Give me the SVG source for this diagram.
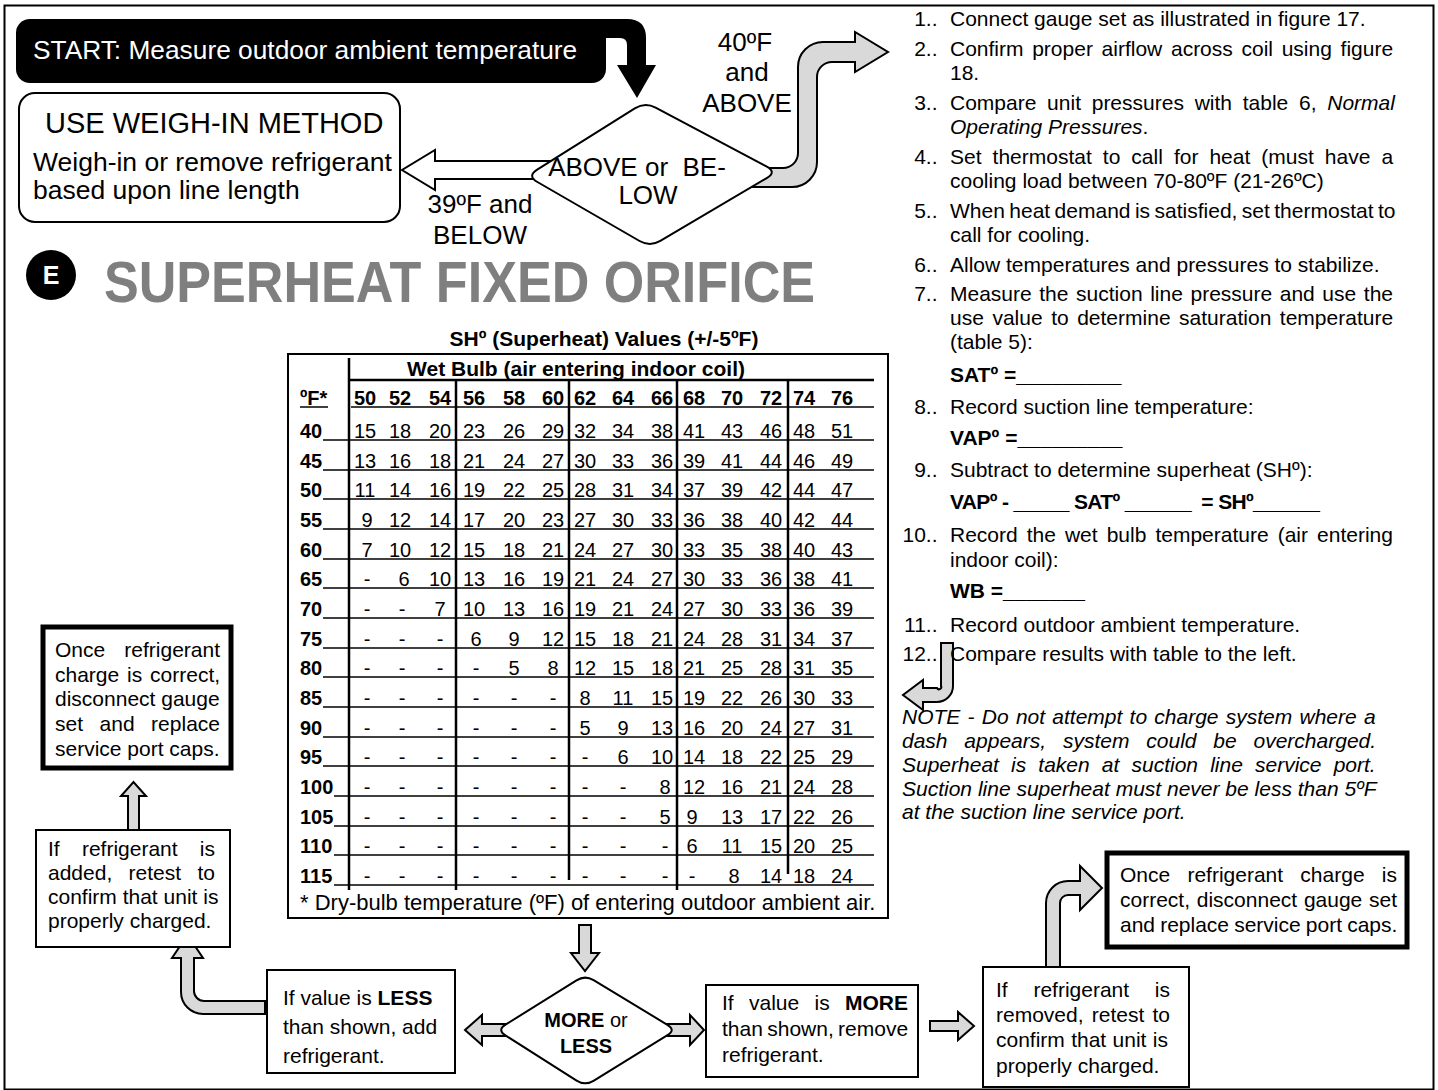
<svg xmlns="http://www.w3.org/2000/svg" width="1438" height="1090" viewBox="0 0 1438 1090">
<style>
text{font-family:"Liberation Sans",Arial,Helvetica,sans-serif;fill:#000}
.f20{font-size:20px}
.f21{font-size:21px}
.f22{font-size:22px}
.f26{font-size:26px}
.b{font-weight:bold}
.i{font-style:italic}
.r{text-anchor:end}
.m{text-anchor:middle}
.box{fill:#fff;stroke:#000;stroke-width:2}
.thick{fill:#fff;stroke:#000;stroke-width:5}
.garrow{fill:#d9d9d9;stroke:#000;stroke-width:2}
.warrow{fill:#fff;stroke:#000;stroke-width:2}
.rl{stroke:#000;stroke-width:1.5;fill:none}
.vl{stroke:#000;stroke-width:2.5;fill:none}
</style>
<rect x="4.5" y="5.5" width="1429" height="1084" fill="#fff" stroke="#000" stroke-width="2"/>

<g id="connectors">
  <path d="M 590 19 H 627 Q 646 19 646 38 V 65 H 656 L 637 98 L 617 65 H 627 V 45 Q 627 38 620 38 H 590 Z" fill="#000"/>
  <path class="warrow" d="M 560 161 H 435 V 150 L 402 170 L 435 190 V 179 H 560 Z"/>
  <path class="garrow" d="M 745 187 H 792 A 25 25 0 0 0 817 162 V 77 A 15 15 0 0 1 832 62 H 855 V 72 L 888 52 L 855 32 V 42 H 823 A 25 25 0 0 0 798 67 V 153 A 15 15 0 0 1 783 168 H 745 Z"/>
  <text class="f26 m" x="745" y="51">40ºF</text>
  <text class="f26 m" x="747" y="81">and</text>
  <text class="f26 m" x="747" y="112">ABOVE</text>
  <text class="f26 m" x="480" y="213">39ºF and</text>
  <text class="f26 m" x="480" y="243.5">BELOW</text>
  <path class="garrow" d="M 941 643 H 953 V 686 A 16 16 0 0 1 937 702 H 923 V 710 L 903 695 L 923 680 V 688 H 937 A 2 2 0 0 0 941 686 Z"/>
  <path class="garrow" d="M 579 925 H 591 V 953 H 599 L 585 971 L 571 953 H 579 Z"/>
  <path class="garrow" d="M 510 1024 H 482 V 1015 L 465 1030 L 482 1045 V 1036 H 510 Z"/>
  <path class="garrow" d="M 662 1024 H 690 V 1015 L 704 1030 L 690 1045 V 1036 H 662 Z"/>
  <path class="garrow" d="M 930 1021 H 958 V 1012 L 974 1026 L 958 1040 V 1031 H 930 Z"/>
  <path class="garrow" d="M 1046 967 V 903 A 22 22 0 0 1 1068 881 H 1080 V 866 L 1102 888 L 1080 910 V 895 H 1068 A 8 8 0 0 0 1060 903 V 967 Z"/>
  <path class="garrow" d="M 265 1001 H 204 A 10 10 0 0 1 194 991 V 958 H 203 L 187.5 935 L 172 958 H 181 V 992 A 22 22 0 0 0 203 1014 H 265 Z"/>
  <path class="garrow" d="M 128 830 V 796 H 121 L 133.5 782 L 146 796 H 139 V 830 Z"/>
</g>

<g id="start">
  <rect x="16" y="19" width="590" height="64" rx="14" fill="#000"/>
  <text x="33" y="59" style="font-size:26.3px;fill:#fff">START: Measure outdoor ambient temperature</text>
</g>

<g id="weigh-in">
  <rect class="box" x="19" y="93" width="381" height="129" rx="16"/>
  <text x="45" y="133" style="font-size:29px">USE WEIGH-IN METHOD</text>
  <text x="33" y="171" style="font-size:26.5px">Weigh-in or remove refrigerant</text>
  <text x="33" y="199" style="font-size:26.5px">based upon line length</text>
</g>

<g id="decision-temp">
  <path class="box" d="M 655.6 107.6 L 766.4 166.4 Q 777 172 766.7 178.1 L 660.3 240.9 Q 650 247 639.6 241 L 537.4 182 Q 527 176 537.2 169.6 L 634.8 108.4 Q 645 102 655.6 107.6 Z"/>
  <text class="f26 m" x="637" y="176" xml:space="preserve">ABOVE or  BE-</text>
  <text class="f26 m" x="648" y="204">LOW</text>
</g>

<g id="heading">
  <circle cx="51" cy="275" r="25" fill="#000"/>
  <text class="b m" x="51" y="284" style="font-size:25px;fill:#fff">E</text>
  <text class="b" x="104" y="302" textLength="711" lengthAdjust="spacingAndGlyphs" style="font-size:58px;fill:#7f7f7f">SUPERHEAT FIXED ORIFICE</text>
</g>

<g id="table">
  <text class="b m" x="604" y="346" style="font-size:21px">SHº (Superheat) Values (+/-5ºF)</text>
  <rect x="288" y="354" width="600" height="564" fill="#fff" stroke="#000" stroke-width="2"/>
  <text class="b m" x="576" y="376" style="font-size:21px">Wet Bulb (air entering indoor coil)</text>
  <line class="vl" x1="349" y1="380" x2="874" y2="380"/>
  <line class="vl" x1="349" y1="358" x2="349" y2="890"/>
  <line class="vl" x1="456" y1="380" x2="456" y2="890"/>
  <line class="vl" x1="569" y1="380" x2="569" y2="880"/>
  <line class="vl" x1="677" y1="380" x2="677" y2="890"/>
  <line class="vl" x1="788" y1="380" x2="788" y2="874"/>
  <g class="rl">
    <line x1="300" y1="407" x2="328" y2="407"/>
    <line x1="351" y1="407" x2="874" y2="407"/>
    <line x1="323" y1="440" x2="874" y2="440"/>
    <line x1="323" y1="470" x2="874" y2="470"/>
    <line x1="323" y1="499" x2="874" y2="499"/>
    <line x1="323" y1="529" x2="874" y2="529"/>
    <line x1="323" y1="559" x2="874" y2="559"/>
    <line x1="323" y1="588" x2="874" y2="588"/>
    <line x1="323" y1="618" x2="874" y2="618"/>
    <line x1="323" y1="648" x2="874" y2="648"/>
    <line x1="323" y1="677" x2="874" y2="677"/>
    <line x1="323" y1="707" x2="874" y2="707"/>
    <line x1="323" y1="737" x2="874" y2="737"/>
    <line x1="323" y1="766" x2="874" y2="766"/>
    <line x1="334" y1="796" x2="874" y2="796"/>
    <line x1="334" y1="826" x2="874" y2="826"/>
    <line x1="334" y1="855" x2="874" y2="855"/>
    <line x1="334" y1="885" x2="874" y2="885"/>
  </g>
  <g class="f20 b">
    <text x="300" y="405">ºF*</text>
    <text x="300" y="438">40</text>
    <text x="300" y="468">45</text>
    <text x="300" y="497">50</text>
    <text x="300" y="527">55</text>
    <text x="300" y="557">60</text>
    <text x="300" y="586">65</text>
    <text x="300" y="616">70</text>
    <text x="300" y="646">75</text>
    <text x="300" y="675">80</text>
    <text x="300" y="705">85</text>
    <text x="300" y="735">90</text>
    <text x="300" y="764">95</text>
    <text x="300" y="794">100</text>
    <text x="300" y="824">105</text>
    <text x="300" y="853">110</text>
    <text x="300" y="883">115</text>
  </g>
  <text class="f20 b m" y="405"><tspan x="365">50</tspan><tspan x="400">52</tspan><tspan x="440">54</tspan><tspan x="474">56</tspan><tspan x="514">58</tspan><tspan x="553">60</tspan><tspan x="585">62</tspan><tspan x="623">64</tspan><tspan x="662">66</tspan><tspan x="694">68</tspan><tspan x="732">70</tspan><tspan x="771">72</tspan><tspan x="804">74</tspan><tspan x="842">76</tspan></text>
  <text class="f20 m" y="438"><tspan x="365">15</tspan><tspan x="400">18</tspan><tspan x="440">20</tspan><tspan x="474">23</tspan><tspan x="514">26</tspan><tspan x="553">29</tspan><tspan x="585">32</tspan><tspan x="623">34</tspan><tspan x="662">38</tspan><tspan x="694">41</tspan><tspan x="732">43</tspan><tspan x="771">46</tspan><tspan x="804">48</tspan><tspan x="842">51</tspan></text>
  <text class="f20 m" y="468"><tspan x="365">13</tspan><tspan x="400">16</tspan><tspan x="440">18</tspan><tspan x="474">21</tspan><tspan x="514">24</tspan><tspan x="553">27</tspan><tspan x="585">30</tspan><tspan x="623">33</tspan><tspan x="662">36</tspan><tspan x="694">39</tspan><tspan x="732">41</tspan><tspan x="771">44</tspan><tspan x="804">46</tspan><tspan x="842">49</tspan></text>
  <text class="f20 m" y="497"><tspan x="365">11</tspan><tspan x="400">14</tspan><tspan x="440">16</tspan><tspan x="474">19</tspan><tspan x="514">22</tspan><tspan x="553">25</tspan><tspan x="585">28</tspan><tspan x="623">31</tspan><tspan x="662">34</tspan><tspan x="694">37</tspan><tspan x="732">39</tspan><tspan x="771">42</tspan><tspan x="804">44</tspan><tspan x="842">47</tspan></text>
  <text class="f20 m" y="527"><tspan x="367">9</tspan><tspan x="400">12</tspan><tspan x="440">14</tspan><tspan x="474">17</tspan><tspan x="514">20</tspan><tspan x="553">23</tspan><tspan x="585">27</tspan><tspan x="623">30</tspan><tspan x="662">33</tspan><tspan x="694">36</tspan><tspan x="732">38</tspan><tspan x="771">40</tspan><tspan x="804">42</tspan><tspan x="842">44</tspan></text>
  <text class="f20 m" y="557"><tspan x="367">7</tspan><tspan x="400">10</tspan><tspan x="440">12</tspan><tspan x="474">15</tspan><tspan x="514">18</tspan><tspan x="553">21</tspan><tspan x="585">24</tspan><tspan x="623">27</tspan><tspan x="662">30</tspan><tspan x="694">33</tspan><tspan x="732">35</tspan><tspan x="771">38</tspan><tspan x="804">40</tspan><tspan x="842">43</tspan></text>
  <text class="f20 m" y="586"><tspan x="367">-</tspan><tspan x="404">6</tspan><tspan x="440">10</tspan><tspan x="474">13</tspan><tspan x="514">16</tspan><tspan x="553">19</tspan><tspan x="585">21</tspan><tspan x="623">24</tspan><tspan x="662">27</tspan><tspan x="694">30</tspan><tspan x="732">33</tspan><tspan x="771">36</tspan><tspan x="804">38</tspan><tspan x="842">41</tspan></text>
  <text class="f20 m" y="616"><tspan x="367">-</tspan><tspan x="402">-</tspan><tspan x="440">7</tspan><tspan x="474">10</tspan><tspan x="514">13</tspan><tspan x="553">16</tspan><tspan x="585">19</tspan><tspan x="623">21</tspan><tspan x="662">24</tspan><tspan x="694">27</tspan><tspan x="732">30</tspan><tspan x="771">33</tspan><tspan x="804">36</tspan><tspan x="842">39</tspan></text>
  <text class="f20 m" y="646"><tspan x="367">-</tspan><tspan x="402">-</tspan><tspan x="440">-</tspan><tspan x="476">6</tspan><tspan x="514">9</tspan><tspan x="553">12</tspan><tspan x="585">15</tspan><tspan x="623">18</tspan><tspan x="662">21</tspan><tspan x="694">24</tspan><tspan x="732">28</tspan><tspan x="771">31</tspan><tspan x="804">34</tspan><tspan x="842">37</tspan></text>
  <text class="f20 m" y="675"><tspan x="367">-</tspan><tspan x="402">-</tspan><tspan x="440">-</tspan><tspan x="476">-</tspan><tspan x="514">5</tspan><tspan x="553">8</tspan><tspan x="585">12</tspan><tspan x="623">15</tspan><tspan x="662">18</tspan><tspan x="694">21</tspan><tspan x="732">25</tspan><tspan x="771">28</tspan><tspan x="804">31</tspan><tspan x="842">35</tspan></text>
  <text class="f20 m" y="705"><tspan x="367">-</tspan><tspan x="402">-</tspan><tspan x="440">-</tspan><tspan x="476">-</tspan><tspan x="514">-</tspan><tspan x="553">-</tspan><tspan x="585">8</tspan><tspan x="623">11</tspan><tspan x="662">15</tspan><tspan x="694">19</tspan><tspan x="732">22</tspan><tspan x="771">26</tspan><tspan x="804">30</tspan><tspan x="842">33</tspan></text>
  <text class="f20 m" y="735"><tspan x="367">-</tspan><tspan x="402">-</tspan><tspan x="440">-</tspan><tspan x="476">-</tspan><tspan x="514">-</tspan><tspan x="553">-</tspan><tspan x="585">5</tspan><tspan x="623">9</tspan><tspan x="662">13</tspan><tspan x="694">16</tspan><tspan x="732">20</tspan><tspan x="771">24</tspan><tspan x="804">27</tspan><tspan x="842">31</tspan></text>
  <text class="f20 m" y="764"><tspan x="367">-</tspan><tspan x="402">-</tspan><tspan x="440">-</tspan><tspan x="476">-</tspan><tspan x="514">-</tspan><tspan x="553">-</tspan><tspan x="585">-</tspan><tspan x="623">6</tspan><tspan x="662">10</tspan><tspan x="694">14</tspan><tspan x="732">18</tspan><tspan x="771">22</tspan><tspan x="804">25</tspan><tspan x="842">29</tspan></text>
  <text class="f20 m" y="794"><tspan x="367">-</tspan><tspan x="402">-</tspan><tspan x="440">-</tspan><tspan x="476">-</tspan><tspan x="514">-</tspan><tspan x="553">-</tspan><tspan x="585">-</tspan><tspan x="623">-</tspan><tspan x="665">8</tspan><tspan x="694">12</tspan><tspan x="732">16</tspan><tspan x="771">21</tspan><tspan x="804">24</tspan><tspan x="842">28</tspan></text>
  <text class="f20 m" y="824"><tspan x="367">-</tspan><tspan x="402">-</tspan><tspan x="440">-</tspan><tspan x="476">-</tspan><tspan x="514">-</tspan><tspan x="553">-</tspan><tspan x="585">-</tspan><tspan x="623">-</tspan><tspan x="665">5</tspan><tspan x="692">9</tspan><tspan x="732">13</tspan><tspan x="771">17</tspan><tspan x="804">22</tspan><tspan x="842">26</tspan></text>
  <text class="f20 m" y="853"><tspan x="367">-</tspan><tspan x="402">-</tspan><tspan x="440">-</tspan><tspan x="476">-</tspan><tspan x="514">-</tspan><tspan x="553">-</tspan><tspan x="585">-</tspan><tspan x="623">-</tspan><tspan x="665">-</tspan><tspan x="692">6</tspan><tspan x="732">11</tspan><tspan x="771">15</tspan><tspan x="804">20</tspan><tspan x="842">25</tspan></text>
  <text class="f20 m" y="883"><tspan x="367">-</tspan><tspan x="402">-</tspan><tspan x="440">-</tspan><tspan x="476">-</tspan><tspan x="514">-</tspan><tspan x="553">-</tspan><tspan x="585">-</tspan><tspan x="623">-</tspan><tspan x="665">-</tspan><tspan x="692">-</tspan><tspan x="734">8</tspan><tspan x="771">14</tspan><tspan x="804">18</tspan><tspan x="842">24</tspan></text>
  <text class="f22" x="300" y="910">* Dry-bulb temperature (ºF) of entering outdoor ambient air.</text>
</g>

<g id="steps">
  <g class="f21 r">
    <text x="937.5" y="26">1..</text>
    <text x="937.5" y="56">2..</text>
    <text x="937.5" y="110">3..</text>
    <text x="937.5" y="164">4..</text>
    <text x="937.5" y="218">5..</text>
    <text x="937.5" y="272">6..</text>
    <text x="937.5" y="301">7..</text>
    <text x="937.5" y="414">8..</text>
    <text x="937.5" y="477">9..</text>
    <text x="937.5" y="542">10..</text>
    <text x="937.5" y="632">11..</text>
    <text x="937.5" y="661">12..</text>
  </g>
  <g class="f21">
    <text x="950" y="26">Connect gauge set as illustrated in figure 17.</text>
    <text x="950" y="56" style="word-spacing:2.85px">Confirm proper airflow across coil using figure</text>
    <text x="950" y="80">18.</text>
    <text x="950" y="110" style="word-spacing:4.9px">Compare unit pressures with table 6, <tspan class="i">Normal</tspan></text>
    <text x="950" y="134"><tspan class="i">Operating Pressures</tspan>.</text>
    <text x="950" y="164" style="word-spacing:5.2px">Set thermostat to call for heat (must have a</text>
    <text x="950" y="188">cooling load between 70-80ºF (21-26ºC)</text>
    <text x="950" y="218" style="word-spacing:-1.4px">When heat demand is satisfied, set thermostat to</text>
    <text x="950" y="242">call for cooling.</text>
    <text x="950" y="272">Allow temperatures and pressures to stabilize.</text>
    <text x="950" y="301" style="word-spacing:1.75px">Measure the suction line pressure and use the</text>
    <text x="950" y="325" style="word-spacing:2.7px">use value to determine saturation temperature</text>
    <text x="950" y="349">(table 5):</text>
    <text class="b" x="950" y="382">SATº =_________</text>
    <text x="950" y="414">Record suction line temperature:</text>
    <text class="b" x="950" y="445">VAPº =_________</text>
    <text x="950" y="477">Subtract to determine superheat (SHº):</text>
    <text class="b" x="950" y="509" textLength="370" lengthAdjust="spacing" xml:space="preserve">VAPº - _____ SATº ______  = SHº______</text>
    <text x="950" y="542" style="word-spacing:3.2px">Record the wet bulb temperature (air entering</text>
    <text x="950" y="567">indoor coil):</text>
    <text class="b" x="950" y="598">WB =_______</text>
    <text x="950" y="632">Record outdoor ambient temperature.</text>
    <text x="950" y="661">Compare results with table to the left.</text>
  </g>
</g>

<g id="note" class="f21 i">
  <text x="902" y="724" style="word-spacing:1.4px">NOTE - Do not attempt to charge system where a</text>
  <text x="902" y="748" style="word-spacing:11px">dash appears, system could be overcharged.</text>
  <text x="902" y="772" style="word-spacing:6.3px">Superheat is taken at suction line service port.</text>
  <text x="902" y="796">Suction line superheat must never be less than 5ºF</text>
  <text x="902" y="819">at the suction line service port.</text>
</g>

<g id="final-left">
  <rect class="thick" x="43" y="627" width="188" height="141"/>
  <g class="f21">
    <text x="55" y="657" style="word-spacing:13.3px">Once refrigerant</text>
    <text x="55" y="682" style="word-spacing:2px">charge is correct,</text>
    <text x="55" y="706">disconnect gauge</text>
    <text x="55" y="731" style="word-spacing:10.7px">set and replace</text>
    <text x="55" y="756">service port caps.</text>
  </g>
</g>

<g id="retest-added">
  <rect class="box" x="36" y="830" width="194" height="117"/>
  <g class="f21">
    <text x="48" y="856" style="word-spacing:16.4px">If refrigerant is</text>
    <text x="48" y="880" style="word-spacing:10.5px">added, retest to</text>
    <text x="48" y="904">confirm that unit is</text>
    <text x="48" y="928">properly charged.</text>
  </g>
</g>

<g id="less">
  <rect class="box" x="267" y="970" width="188" height="103"/>
  <g class="f21">
    <text x="283" y="1005">If value is <tspan class="b">LESS</tspan></text>
    <text x="283" y="1034">than shown, add</text>
    <text x="283" y="1063">refrigerant.</text>
  </g>
</g>

<g id="decision-more-less">
  <path class="box" d="M 593.6 980.2 L 667.4 1024.8 Q 676 1030 667.5 1035.2 L 593.5 1080.8 Q 585 1086 576.6 1080.6 L 505.4 1035.4 Q 497 1030 505.5 1024.7 L 576.5 980.3 Q 585 975 593.6 980.2 Z"/>
  <text class="f20 m" x="586" y="1027"><tspan class="b">MORE</tspan> or</text>
  <text class="f20 b m" x="586" y="1053">LESS</text>
</g>

<g id="more">
  <rect class="box" x="706" y="985" width="212" height="92"/>
  <g class="f21">
    <text x="722" y="1010" style="word-spacing:9.5px">If value is <tspan class="b">MORE</tspan></text>
    <text x="722" y="1036" style="word-spacing:-1.5px">than shown, remove</text>
    <text x="722" y="1062">refrigerant.</text>
  </g>
</g>

<g id="retest-removed">
  <rect class="box" x="983" y="967" width="206" height="120"/>
  <g class="f21">
    <text x="996" y="997" style="word-spacing:19.9px">If refrigerant is</text>
    <text x="996" y="1022" style="word-spacing:2.4px">removed, retest to</text>
    <text x="996" y="1047" style="word-spacing:0.5px">confirm that unit is</text>
    <text x="996" y="1073">properly charged.</text>
  </g>
</g>

<g id="final-right">
  <rect class="thick" x="1107" y="853" width="300" height="94"/>
  <g class="f21">
    <text x="1120" y="882" style="word-spacing:11.4px">Once refrigerant charge is</text>
    <text x="1120" y="907" style="word-spacing:0.9px">correct, disconnect gauge set</text>
    <text x="1120" y="932" style="word-spacing:-0.7px">and replace service port caps.</text>
  </g>
</g>
</svg>
